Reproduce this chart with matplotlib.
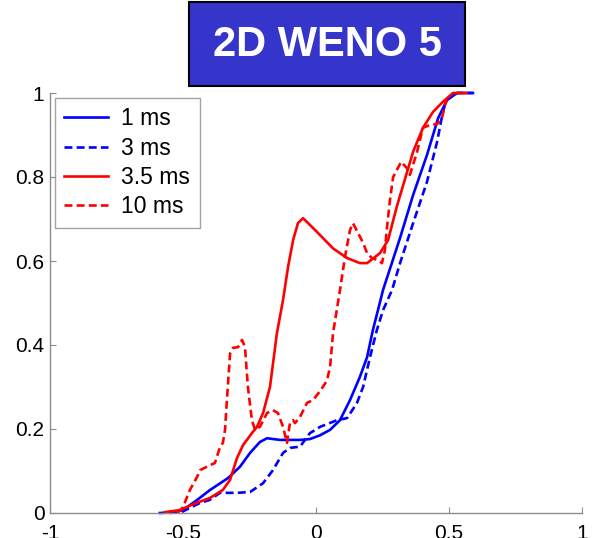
import matplotlib.pyplot as plt
from matplotlib.patches import Rectangle

plt.rcParams['font.family'] = ['Liberation Sans', 'DejaVu Sans']

# 1 ms (blue solid)
x_1ms = [-0.587, -0.55, -0.5, -0.447, -0.398, -0.331, -0.286, -0.248, -0.211, -0.184,
         -0.135, -0.06, -0.023, 0.015, 0.053, 0.09, 0.128, 0.165, 0.192, 0.214,
         0.233, 0.252, 0.316, 0.365, 0.417, 0.459, 0.492, 0.53, 0.59]
y_1ms = [0.0, 0.001, 0.007, 0.031, 0.055, 0.083, 0.11, 0.143, 0.169, 0.178,
         0.174, 0.174, 0.176, 0.185, 0.198, 0.221, 0.269, 0.324, 0.371, 0.436,
         0.483, 0.531, 0.655, 0.757, 0.852, 0.94, 0.983, 1.0, 1.0]

# 3 ms (blue dashed)
x_3ms = [-0.55, -0.5, -0.436, -0.4, -0.361, -0.297, -0.248, -0.199, -0.162, -0.124,
         -0.098, -0.06, -0.023, 0.015, 0.079, 0.117, 0.154, 0.177, 0.203, 0.229,
         0.252, 0.286, 0.316, 0.365, 0.417, 0.455, 0.477, 0.49, 0.53, 0.59]
y_3ms = [0.0, 0.004, 0.024, 0.031, 0.048, 0.048, 0.05, 0.071, 0.102, 0.143,
         0.155, 0.158, 0.19, 0.205, 0.221, 0.226, 0.262, 0.3, 0.371, 0.436,
         0.483, 0.531, 0.595, 0.69, 0.788, 0.883, 0.955, 0.983, 1.0, 1.0]

# 3.5 ms (red solid)
x_35ms = [-0.568, -0.511, -0.462, -0.398, -0.35, -0.323, -0.297, -0.274, -0.241, -0.222,
          -0.199, -0.173, -0.147, -0.124, -0.105, -0.086, -0.068, -0.049, -0.023, 0.004,
          0.064, 0.117, 0.165, 0.192, 0.241, 0.271, 0.304, 0.365, 0.402, 0.44,
          0.477, 0.515, 0.567]
y_35ms = [0.002, 0.007, 0.021, 0.036, 0.055, 0.079, 0.131, 0.162, 0.19, 0.205,
          0.238, 0.3, 0.428, 0.507, 0.586, 0.65, 0.69, 0.702, 0.686, 0.669,
          0.63, 0.607, 0.595, 0.595, 0.619, 0.65, 0.73, 0.86, 0.917, 0.955,
          0.979, 1.0, 1.0]

# 10 ms (red dashed)
x_10ms = [-0.52, -0.5, -0.474, -0.447, -0.436, -0.398, -0.38, -0.361, -0.35, -0.342,
          -0.335, -0.323, -0.312, -0.293, -0.278, -0.267, -0.256, -0.241, -0.229,
          -0.211, -0.184, -0.162, -0.143, -0.124, -0.109, -0.098, -0.086, -0.079, -0.06,
          -0.034, -0.011, 0.015, 0.041, 0.053, 0.064, 0.09, 0.109, 0.128, 0.139,
          0.158, 0.177, 0.192, 0.21, 0.233, 0.248, 0.259, 0.267, 0.278, 0.29,
          0.32, 0.342, 0.353, 0.38, 0.402, 0.429, 0.455, 0.474, 0.485, 0.492]
y_10ms = [0.0, 0.014, 0.055, 0.086, 0.102, 0.114, 0.119, 0.157, 0.167, 0.198,
          0.269, 0.38, 0.393, 0.395, 0.412, 0.395, 0.3, 0.221, 0.198,
          0.205, 0.238, 0.245, 0.238, 0.205, 0.167, 0.214, 0.221, 0.214, 0.229,
          0.262, 0.269, 0.29, 0.315, 0.348, 0.428, 0.53, 0.61, 0.674, 0.69,
          0.667, 0.643, 0.619, 0.607, 0.602, 0.595, 0.626, 0.681, 0.745, 0.8,
          0.836, 0.821, 0.805, 0.86, 0.917, 0.924, 0.926, 0.942, 0.971, 0.983]

x_ticks = [-1, -0.5, 0, 0.5, 1]
y_ticks = [0, 0.2, 0.4, 0.6, 0.8, 1]

W, H = 592, 538
fig = plt.figure(figsize=(W / 100, H / 100), dpi=100)
ax = fig.add_axes([50 / W, 25 / H, 532 / W, 420 / H])

dash = (3, 1.6)
ax.plot(x_1ms, y_1ms, color='blue', lw=1.9, label='1 ms', clip_on=False)
ax.plot(x_3ms, y_3ms, color='blue', lw=1.9, ls='--', dashes=dash, label='3 ms', clip_on=False)
ax.plot(x_35ms, y_35ms, color='red', lw=1.9, label='3.5 ms', clip_on=False)
ax.plot(x_10ms, y_10ms, color='red', lw=1.9, ls='--', dashes=dash, label='10 ms', clip_on=False)

ax.set_xlim(-1, 1)
ax.set_ylim(0, 1)
ax.set_xticks(x_ticks)
ax.set_xticklabels(['-1', '-0.5', '0', '0.5', '1'])
ax.set_yticks(y_ticks)
ax.set_yticklabels(['0', '0.2', '0.4', '0.6', '0.8', '1'])

for side in ['top', 'right']:
    ax.spines[side].set_visible(False)
for side in ['left', 'bottom']:
    ax.spines[side].set_color('#8c8c8c')
    ax.spines[side].set_linewidth(1.0)
ax.tick_params(direction='in', length=4, color='#8c8c8c', labelsize=15, labelcolor='black')
ax.tick_params(axis='x', pad=8)
ax.tick_params(axis='y', pad=4)

leg = ax.legend(loc='upper left', bbox_to_anchor=(5 / 532, 1 - 5 / 420), fontsize=16.5,
                frameon=True, fancybox=False, handlelength=1.9, handletextpad=0.6,
                labelspacing=0.28, borderpad=0.4, borderaxespad=0)
leg.get_frame().set_edgecolor('#8c8c8c')
leg.get_frame().set_linewidth(1.0)

# title box
fig.patches.append(Rectangle((189 / W, 1 - 86 / H), 276 / W, 84 / H, transform=fig.transFigure,
                             facecolor='#3535cc', edgecolor='black', lw=1.5))
fig.text(327 / W, 1 - 45 / H, '2D WENO 5', color='white', fontsize=30, fontweight='bold',
         ha='center', va='center')

fig.savefig('out.png', dpi=100)
